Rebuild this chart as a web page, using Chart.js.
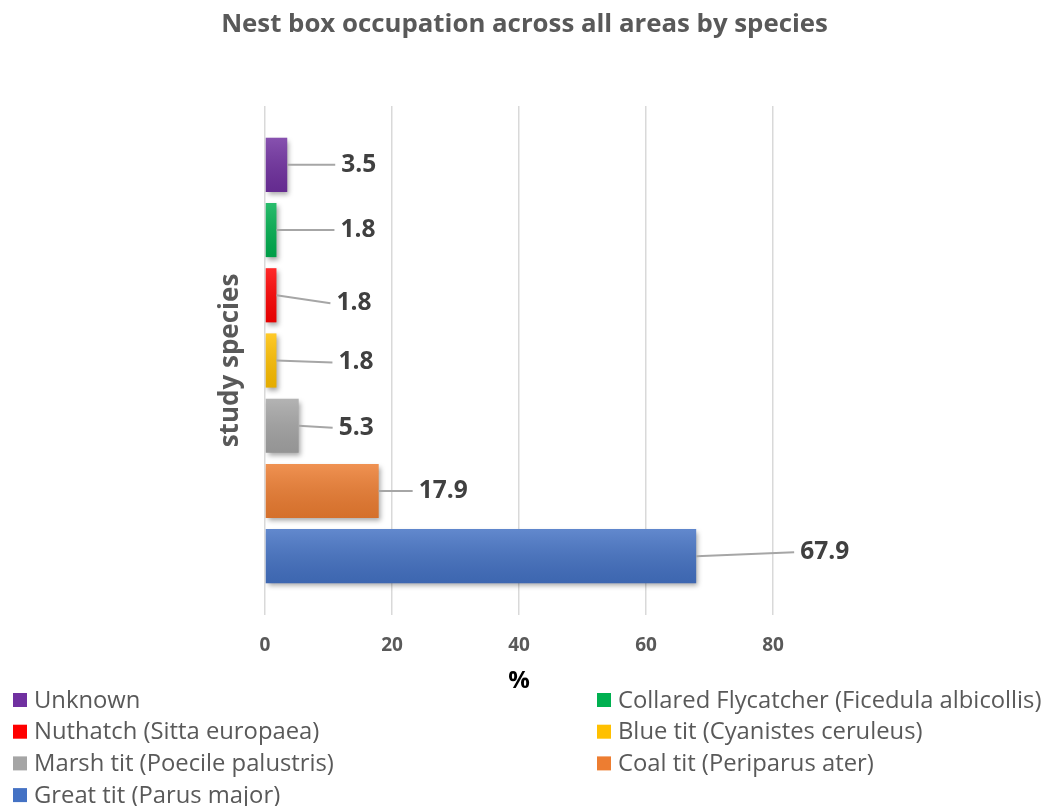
<!DOCTYPE html>
<html>
<head>
<meta charset="utf-8">
<title>Nest box occupation</title>
<script src="https://cdn.jsdelivr.net/npm/chart.js@4.4.1/dist/chart.umd.min.js"></script>
<style>
    html, body { margin: 0; padding: 0; background: #fff; }
    #grafico { display: block; }
</style>
</head>
<body>
<canvas id="grafico" width="1049" height="806"></canvas>
<script>
// Dados: espécies e percentagem de caixas-ninho ocupadas
const especies = [
    'Unknown',
    'Collared Flycatcher (Ficedula albicollis)',
    'Nuthatch (Sitta europaea)',
    'Blue tit (Cyanistes ceruleus)',
    'Marsh tit (Poecile palustris)',
    'Coal tit (Periparus ater)',
    'Great tit (Parus major)'
];
const percentagens = [3.5, 1.8, 1.8, 1.8, 5.3, 17.9, 67.9];
const cores = ['#7030A0', '#00B050', '#FF0000', '#FFC000', '#A5A5A5', '#ED7D31', '#4472C4'];
const ticksX = [0, 20, 40, 60, 80];
const categoria = ['all areas'];
const titulo = 'Nest box occupation across all areas by species';

// Deslocamento (px) de cada rótulo em relação ao fim da barra
const deslocRotulos = [[54, 0], [64, 0], [60, 8], [62, 2], [40, 2], [40, 0], [104, -4]];

const FONTE = '"Open Sans", sans-serif';
const CINZA = '#595959';

// Título centrado na largura total do canvas
const tituloCentrado = {
    id: 'tituloCentrado',
    afterDraw(chart) {
        const ctx = chart.ctx;
        ctx.save();
        ctx.font = 'bold 25.8px ' + FONTE;
        ctx.fillStyle = CINZA;
        ctx.textAlign = 'center';
        ctx.textBaseline = 'middle';
        ctx.fillText(titulo, chart.width / 2, 25);
        ctx.restore();
    }
};

// Sombra suave por baixo de cada barra
const sombraBarras = {
    id: 'sombraBarras',
    beforeDatasetDraw(chart) {
        const ctx = chart.ctx;
        ctx.save();
        ctx.shadowColor = 'rgba(0,0,0,0.35)';
        ctx.shadowBlur = 5;
        ctx.shadowOffsetX = 2;
        ctx.shadowOffsetY = 3;
    },
    afterDatasetDraw(chart, args) {
        const ctx = chart.ctx;
        ctx.restore();
        // brilho em degradê por cima da barra
        const el = args.meta.data[0];
        const topo = el.y - el.height / 2;
        const base = el.y + el.height / 2;
        const g = ctx.createLinearGradient(0, topo, 0, base);
        g.addColorStop(0, 'rgba(255,255,255,0.16)');
        g.addColorStop(1, 'rgba(0,0,0,0.1)');
        ctx.save();
        ctx.fillStyle = g;
        ctx.fillRect(el.base, topo, el.x - el.base, base - topo);
        ctx.restore();
    }
};

// Rótulos de valor com linha de ligação
const rotulosValor = {
    id: 'rotulosValor',
    afterDatasetsDraw(chart) {
        const ctx = chart.ctx;
        ctx.save();
        ctx.font = 'bold 24.5px ' + FONTE;
        ctx.textAlign = 'left';
        ctx.textBaseline = 'middle';
        chart.data.datasets.forEach((ds, i) => {
            const el = chart.getDatasetMeta(i).data[0];
            const [dx, dy] = deslocRotulos[i];
            const xl = el.x + dx;
            const yl = el.y + dy;
            ctx.strokeStyle = '#a6a6a6';
            ctx.lineWidth = 2;
            ctx.beginPath();
            ctx.moveTo(el.x, el.y);
            ctx.lineTo(xl - 6, yl);
            ctx.stroke();
            ctx.fillStyle = '#404040';
            ctx.fillText(ds.data[0].toFixed(1), xl, yl);
        });
        ctx.restore();
    }
};

// Legenda em duas colunas no fundo
const legendaColunas = {
    id: 'legendaColunas',
    afterDraw(chart) {
        const ctx = chart.ctx;
        const colunas = [13, 597];
        const linha0 = 700;
        const passo = 31.7;
        ctx.save();
        ctx.font = '23.8px ' + FONTE;
        ctx.textBaseline = 'middle';
        ctx.textAlign = 'left';
        chart.data.datasets.forEach((ds, i) => {
            const x = colunas[i % 2];
            const y = linha0 + Math.floor(i / 2) * passo;
            ctx.fillStyle = ds.backgroundColor;
            ctx.fillRect(x, y - 7, 14, 14);
            ctx.fillStyle = CINZA;
            ctx.fillText(ds.label, x + 21, y + 1);
        });
        ctx.restore();
    }
};

const datasets = especies.map((nome, i) => ({
    label: nome,
    data: [percentagens[i]],
    backgroundColor: cores[i],
    borderWidth: 0,
    categoryPercentage: 0.897,
    barPercentage: 0.83
}));

new Chart(document.getElementById('grafico'), {
    type: 'bar',
    data: { labels: categoria, datasets: datasets },
    plugins: [sombraBarras, rotulosValor, legendaColunas, tituloCentrado],
    options: {
        indexAxis: 'y',
        responsive: false,
        animation: false,
        layout: { padding: { left: 213, right: 276, top: 106, bottom: 110 } },
        scales: {
            x: {
                min: 0,
                max: 80,
                afterBuildTicks: (scale) => { scale.ticks = ticksX.map(v => ({ value: v })); },
                grid: { color: '#d9d9d9', lineWidth: 1.5, drawTicks: false },
                border: { display: false },
                ticks: { font: { family: FONTE, size: 19, weight: 'bold' }, color: CINZA, padding: 19 },
                title: { display: true, text: '%', color: '#000', font: { family: FONTE, size: 24, weight: 'bold' }, padding: 0 },
                afterFit: (scale) => { scale.height = 81; }
            },
            y: {
                grid: { display: false },
                border: { display: false },
                ticks: { display: false },
                title: { display: true, text: 'study species', color: CINZA, font: { family: FONTE, size: 26, weight: 'bold' }, padding: { top: 2, bottom: 0 } },
                afterFit: (scale) => { scale.width = 52; }
            }
        },
        plugins: {
            legend: { display: false },
            tooltip: { enabled: false },
            title: { display: false }
        }
    }
});
</script>
</body>
</html>
